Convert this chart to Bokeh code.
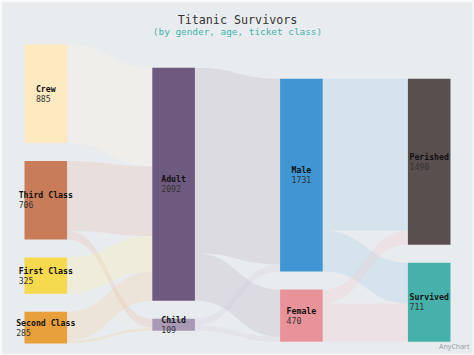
import numpy as np
from bokeh.plotting import figure
from bokeh.models import Range1d, ColumnDataSource
from bokeh.embed import file_html
from bokeh.resources import INLINE
from bokeh.core.properties import value

# ---------------- data ----------------
node_names = ["Crew", "Third Class", "First Class", "Second Class",
              "Adult", "Child", "Male", "Female", "Perished", "Survived"]
node_columns = [0, 0, 0, 0, 1, 1, 2, 2, 3, 3]
node_colors = ["#fdeac1", "#c97c59", "#f5d94f", "#e7a03b",
               "#6e5a7e", "#a999b4", "#3f96d2", "#e8939a", "#5a4f4f", "#46b1aa"]

flow_from = ["Crew", "Third Class", "Third Class", "First Class", "First Class",
             "Second Class", "Second Class", "Adult", "Adult", "Child", "Child",
             "Male", "Male", "Female", "Female"]
flow_to = ["Adult", "Adult", "Child", "Adult", "Child", "Adult", "Child",
           "Male", "Female", "Male", "Female",
           "Perished", "Survived", "Perished", "Survived"]
flow_values = [885, 627, 79, 319, 6, 261, 24, 1667, 425, 64, 45, 1364, 367, 126, 344]

title_text = "Titanic Survivors"
subtitle_text = "(by gender, age, ticket class)"

# ---------------- layout ----------------
W, H = 474, 355
K = 0.1113          # px per unit
GAP = 18.0
NODE_W = 42.6
col_left = [24.0, 151.8, 279.6, 407.4]
col_top = [44.0, 67.3, 78.3, 78.3]

n = len(node_names)
idx = {nm: i for i, nm in enumerate(node_names)}
val_in = np.zeros(n)
val_out = np.zeros(n)
for s, t, v in zip(flow_from, flow_to, flow_values):
    val_out[idx[s]] += v
    val_in[idx[t]] += v
node_val = np.maximum(val_in, val_out)

node_x0 = np.zeros(n); node_x1 = np.zeros(n)
node_y0 = np.zeros(n); node_y1 = np.zeros(n)
cursor = {c: col_top[c] for c in range(4)}
for i in range(n):
    c = node_columns[i]
    node_x0[i] = col_left[c]
    node_x1[i] = col_left[c] + NODE_W
    node_y0[i] = cursor[c]
    node_y1[i] = cursor[c] + node_val[i] * K
    cursor[c] = node_y1[i] + GAP


def lighten(hx, f):
    r, g, b = int(hx[1:3], 16), int(hx[3:5], 16), int(hx[5:7], 16)
    r = int(r + (255 - r) * f); g = int(g + (255 - g) * f); b = int(b + (255 - b) * f)
    return "#%02x%02x%02x" % (r, g, b)


# flows
out_cur = {i: node_y0[i] for i in range(n)}
in_cur = {i: node_y0[i] for i in range(n)}
t = np.linspace(0, 1, 48)
fxs, fys, fcols = [], [], []
for s, tg, v in zip(flow_from, flow_to, flow_values):
    si, ti = idx[s], idx[tg]
    h = v * K
    s0, s1 = out_cur[si], out_cur[si] + h
    t0, t1 = in_cur[ti], in_cur[ti] + h
    out_cur[si] = s1
    in_cur[ti] = t1
    xa, xb = node_x1[si], node_x0[ti]
    xm = (xa + xb) / 2
    bx = (1 - t) ** 3 * xa + 3 * (1 - t) ** 2 * t * xm + 3 * (1 - t) * t ** 2 * xm + t ** 3 * xb
    by = lambda y0, y1: (1 - t) ** 3 * y0 + 3 * (1 - t) ** 2 * t * y0 + 3 * (1 - t) * t ** 2 * y1 + t ** 3 * y1
    top = by(s0, t0)
    bot = by(s1, t1)
    fxs.append(list(bx) + list(bx[::-1]))
    fys.append(list(top) + list(bot[::-1]))
    fcols.append(lighten(node_colors[si], 0.5))

# ---------------- figure ----------------
p = figure(width=W, height=H, x_range=Range1d(0, W), y_range=Range1d(H, 0),
           output_backend="svg", toolbar_location=None,
           x_axis_location=None, y_axis_location=None, min_border=0)
p.grid.visible = False
p.outline_line_color = None
p.background_fill_color = "#f5f6f8"
p.border_fill_color = "#f5f6f8"

p.quad(left=2, right=472, top=2, bottom=353, fill_color="#e9ecef", line_color=None)

p.patches(xs=fxs, ys=fys, fill_color=fcols, fill_alpha=0.27, line_color=None)

nsrc = ColumnDataSource(dict(x0=node_x0, x1=node_x1, y0=node_y0, y1=node_y1, c=node_colors))
p.quad(left="x0", right="x1", top="y0", bottom="y1", fill_color="c", line_color=None, source=nsrc)

# labels
FS = 8.2
CW = FS * 0.602
lab_x, lab_yn, lab_yv, lab_n, lab_v = [], [], [], [], []
for i in range(n):
    cx = (node_x0[i] + node_x1[i]) / 2
    cy = (node_y0[i] + node_y1[i]) / 2
    vs = str(int(node_val[i]))
    wmax = max(len(node_names[i]), len(vs)) * CW
    lab_x.append(cx - wmax / 2)
    lab_yn.append(cy - 4.8)
    lab_yv.append(cy + 4.4)
    lab_n.append(node_names[i])
    lab_v.append(vs)
lsrc = ColumnDataSource(dict(x=lab_x, yn=lab_yn, yv=lab_yv, n=lab_n, v=lab_v))
p.text(x="x", y="yn", text="n", source=lsrc, text_font=value("DejaVu Sans Mono"),
       text_font_size="%.1fpx" % FS, text_font_style="bold", text_color="#111111",
       text_align="left", text_baseline="middle")
p.text(x="x", y="yv", text="v", source=lsrc, text_font=value("DejaVu Sans Mono"),
       text_font_size="%.1fpx" % FS, text_color="#333333",
       text_align="left", text_baseline="middle")

# title & subtitle
p.text(x=[W / 2], y=[19], text=[title_text], text_font=value("DejaVu Sans Mono"),
       text_font_size="11.7px", text_color="#333333", text_align="center", text_baseline="middle")
p.text(x=[W / 2], y=[31], text=[subtitle_text], text_font=value("DejaVu Sans Mono"),
       text_font_size="9.4px", text_color="#3fb5a9", text_align="center", text_baseline="middle")

# credits
p.text(x=[469], y=[345.5], text=["AnyChart"], text_font=value("Noto Sans"),
       text_font_size="7px", text_color="#9a9fa4", text_align="right", text_baseline="middle")

open("out.html", "w").write(file_html(p, INLINE))
